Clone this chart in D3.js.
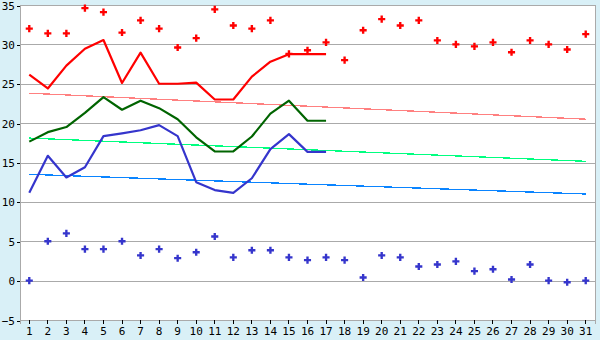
<!DOCTYPE html>
<html>
<head>
<meta charset="utf-8">
<script src="https://cdn.jsdelivr.net/npm/d3@7"></script>
<style>
    body { margin: 0; background: #d9f0f7; }
    svg { display: block; }
    .tick text { font-family: "DejaVu Sans Mono", monospace; fill: #000; }
</style>
</head>
<body>
<div id="chart"></div>
<script>
/**********************/
/******* data         */
/**********************/

const days = d3.range(1, 32);

const maxPoints = [32, 31.4, 31.4, 34.6, 34.1, 31.5, 33.05, 32, 29.6, 30.8,
    34.45, 32.4, 32, 33.05, 28.8, 29.25, 30.25, 28, 31.8, 33.2,
    32.4, 33.05, 30.5, 30, 29.75, 30.25, 29, 30.5, 30, 29.35, 31.3];

const minPoints = [0, 5, 6, 4, 4, 5, 3.2, 4, 2.85, 3.6,
    5.6, 2.95, 3.85, 3.85, 2.95, 2.6, 2.95, 2.6, 0.4, 3.2,
    2.95, 1.8, 2.05, 2.45, 1.2, 1.45, 0.15, 2.05, 0, -0.2, 0];

const redLine = [26.15, 24.4, 27.3, 29.45, 30.55, 25.1, 28.95, 25, 25, 25.15,
    23, 23, 25.9, 27.8, 28.75, 28.75, 28.75];

const greenLine = [17.65, 18.85, 19.5, 21.3, 23.3, 21.7, 22.85, 21.9, 20.5, 18.2,
    16.4, 16.4, 18.3, 21.2, 22.85, 20.3, 20.3];

const blueLine = [11.15, 15.85, 13.1, 14.4, 18.35, 18.7, 19.1, 19.75, 18.35, 12.5,
    11.5, 11.15, 13, 16.7, 18.6, 16.35, 16.35];

// trend lines, value at day 1 and day 31
const redTrend = [23.8, 20.5];
const greenTrend = [18.1, 15.15];
const blueTrend = [13.5, 11.0];

const yTicks = [-5, 0, 5, 10, 15, 20, 25, 30, 35];

/**********************/
/******* chart        */
/**********************/

const width = 600, height = 340;
const margin = {top: 5, right: 5, bottom: 20, left: 20};

const svg = d3.select("#chart")
    .append("svg")
    .attr("width", width)
    .attr("height", height);

const x = d3.scaleBand()
    .domain(days)
    .range([margin.left, width - margin.right]);

const y = d3.scaleLinear()
    .domain([-5, 35])
    .range([height - margin.bottom, margin.top]);

const cx = d => x(d) + x.bandwidth() / 2;

// plot background
svg.append("rect")
    .attr("x", margin.left)
    .attr("y", margin.top)
    .attr("width", width - margin.left - margin.right)
    .attr("height", height - margin.top - margin.bottom)
    .attr("fill", "#fff")
    .attr("stroke", "#aaa")
    .attr("shape-rendering", "crispEdges");

// grid
svg.append("g")
    .selectAll("line")
    .data(yTicks)
    .enter()
    .append("line")
    .attr("x1", margin.left)
    .attr("x2", width - margin.right)
    .attr("y1", d => Math.round(y(d)) + 0.5)
    .attr("y2", d => Math.round(y(d)) + 0.5)
    .attr("stroke", "#aaa")
    .attr("shape-rendering", "crispEdges");

// axes
const yAxis = svg.append("g")
    .attr("transform", `translate(${margin.left}, 0.5)`)
    .call(d3.axisLeft(y).tickValues(yTicks).tickSize(3).tickPadding(2).tickFormat(d => d < 0 ? "\u2212" + (-d) : d))
    .style("font-size", "11px");
yAxis.select(".domain").attr("stroke", "#aaa");
yAxis.selectAll(".tick line").attr("stroke", "#000");

const xAxis = svg.append("g")
    .attr("transform", `translate(0, ${height - margin.bottom})`)
    .call(d3.axisBottom(x).tickSize(4).tickPadding(3))
    .style("font-size", "11px");
xAxis.select(".domain").attr("stroke", "#aaa");
xAxis.selectAll(".tick line").attr("stroke", "#000");

svg.selectAll(".domain, .tick line").attr("shape-rendering", "crispEdges");

// trend lines
const trend = [[redTrend, "#ff8080"], [greenTrend, "#00ff80"], [blueTrend, "#0a84ff"]];
svg.append("g")
    .selectAll("line")
    .data(trend)
    .enter()
    .append("line")
    .attr("x1", cx(days[0]))
    .attr("x2", cx(days[days.length - 1]))
    .attr("y1", d => y(d[0][0]))
    .attr("y2", d => y(d[0][1]))
    .attr("stroke", d => d[1])
    .attr("stroke-width", 1.3)
    .attr("shape-rendering", "crispEdges");

// daily lines
const line = d3.line()
    .x((d, i) => cx(days[i]))
    .y(d => y(d));

const series = [[redLine, "#ff0000"], [greenLine, "#006400"], [blueLine, "#3535cc"]];
svg.append("g")
    .selectAll("path")
    .data(series)
    .enter()
    .append("path")
    .attr("d", d => line(d[0]))
    .attr("fill", "none")
    .attr("stroke", d => d[1])
    .attr("stroke-width", 2.2)
    .attr("stroke-linejoin", "round");

// points
const cross = d3.symbol().type(d3.symbolCross).size(28);

svg.append("g")
    .selectAll("path")
    .data(maxPoints)
    .enter()
    .append("path")
    .attr("d", cross)
    .attr("transform", (d, i) => `translate(${cx(days[i])}, ${y(d)})`)
    .attr("fill", "#ff0000");

svg.append("g")
    .selectAll("path")
    .data(minPoints)
    .enter()
    .append("path")
    .attr("d", cross)
    .attr("transform", (d, i) => `translate(${cx(days[i])}, ${y(d)})`)
    .attr("fill", "#3535cc");
</script>
</body>
</html>
